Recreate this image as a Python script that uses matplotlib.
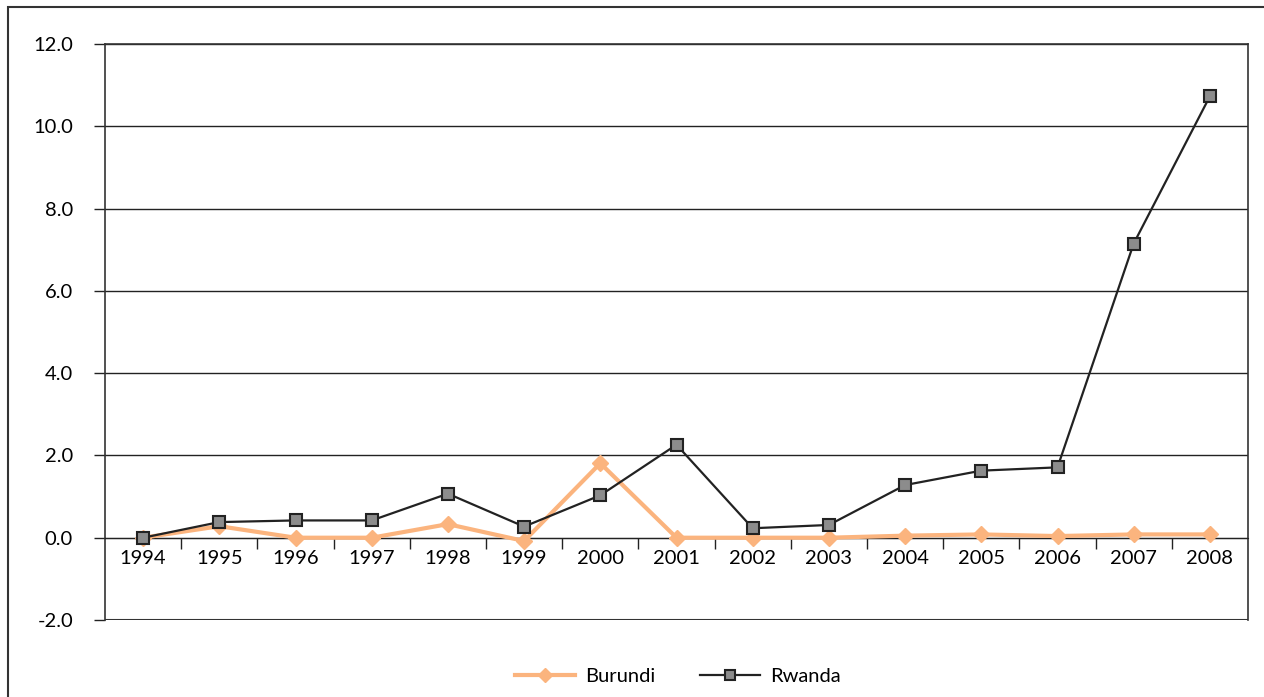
import numpy as np
import matplotlib.pyplot as plt
from matplotlib.patches import Rectangle

plt.rcParams['font.family'] = ['Lato', 'DejaVu Sans']

anos = [1994, 1995, 1996, 1997, 1998, 1999, 2000, 2001,
        2002, 2003, 2004, 2005, 2006, 2007, 2008]
burundi = [0.0, 0.28, 0.0, 0.0, 0.33, -0.08, 1.81, 0.0,
           0.0, 0.0, 0.05, 0.08, 0.04, 0.08, 0.08]
rwanda = [0.0, 0.38, 0.42, 0.42, 1.07, 0.27, 1.03, 2.26,
          0.23, 0.31, 1.28, 1.63, 1.71, 7.15, 10.73]
y_ticks = [-2, 0, 2, 4, 6, 8, 10, 12]

fig = plt.figure(figsize=(12.64, 6.97), dpi=100)
ax = fig.add_axes([105/1264, 1 - 620/697, (1248 - 105)/1264, (620 - 44)/697])

x = np.arange(len(anos))

ax.plot(x, burundi, color="#FBB47E", lw=3, marker="D", ms=8.5,
        mfc="#FBB47E", mec="#FBB47E", label="Burundi", zorder=3)
ax.plot(x, rwanda, color="#222222", lw=1.6, marker="s", ms=8.5,
        mfc="#8C8C8C", mec="#222222", mew=1.5, label="Rwanda", zorder=4)

ax.set_xlim(-0.5, len(anos) - 0.5)
ax.set_ylim(-2, 12)
ax.set_yticks(y_ticks)
ax.set_yticklabels([f"{v:.1f}" for v in y_ticks], fontsize=14.5)
ax.yaxis.grid(True, color="#222222", lw=1)
ax.set_axisbelow(True)
ax.tick_params(axis="y", direction="out", length=8, width=1, pad=15, color="#222222")

# eixo x passando pelo zero, ticks entre categorias
ax.spines["bottom"].set_position(("data", 0))
ax.spines["bottom"].set_color("#222222")
ax.set_xticks(x)
ax.set_xticklabels([str(a) for a in anos], fontsize=14.5)
ax.set_xticks(np.arange(0.5, len(anos) - 0.5, 1), minor=True)
ax.tick_params(axis="x", which="major", length=0, pad=9)
ax.tick_params(axis="x", which="minor", direction="out", length=8, width=1, color="#222222")

for s in ["top", "left", "right"]:
    ax.spines[s].set_color("#333333")
    ax.spines[s].set_linewidth(1.2)
# borda inferior da área do gráfico (-2.0)
ax.axhline(-2, color="#333333", lw=1.5, zorder=1)

leg = fig.legend(loc="center", bbox_to_anchor=(678/1264, 1 - 676/697), ncol=2,
                 frameon=False, fontsize=14.5, handlelength=3.0, columnspacing=2.2,
                 handletextpad=0.5, markerscale=0.8)

fig.patches.append(Rectangle((8/1264, -0.5), 2, 1.5 - 7/697, transform=fig.transFigure,
                             fill=False, edgecolor="#333333", lw=1.5))

fig.savefig("out.png", dpi=100)
